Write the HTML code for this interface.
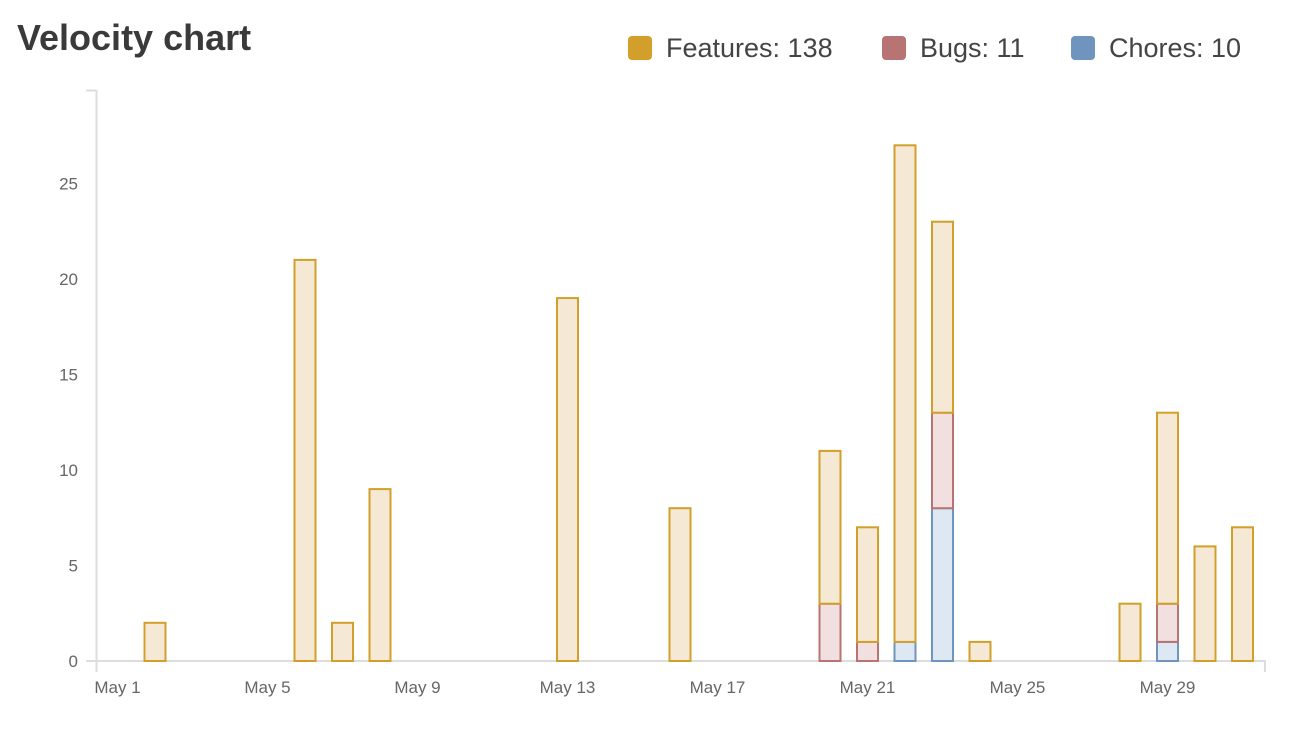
<!DOCTYPE html>
<html><head><meta charset="utf-8"><style>
body{margin:0;background:#fff;width:1294px;height:730px;overflow:hidden;font-family:"Liberation Sans",sans-serif}
</style></head><body>
<svg width="1294" height="730">
<text x="17" y="50" font-size="36" font-weight="bold" fill="#3a3a3a">Velocity chart</text>
<g id="legend"></g>
<g id="axes"></g>
<g id="bars"></g>
</svg>
<script>
const days=[2,6,7,8,13,16,20,21,22,23,24,28,29,30,31];
const features=[2,21,2,9,19,8,8,6,26,10,1,3,10,6,7];
const bugs=[0,0,0,0,0,0,3,1,0,5,0,0,2,0,0];
const chores=[0,0,0,0,0,0,0,0,1,8,0,0,1,0,0];
const yTicks=[0,5,10,15,20,25];
const xTickDays=[1,5,9,13,17,21,25,29];
const legendLabels=["Features: 138","Bugs: 11","Chores: 10"];
const NS="http://www.w3.org/2000/svg";
function mk(t,a,p){const e=document.createElementNS(NS,t);for(const k in a)e.setAttribute(k,a[k]);p.appendChild(e);return e;}
const x=d=>117.5+(d-1)*37.5;
const y=v=>661-v*19.1;
const axes=document.getElementById('axes'),bars=document.getElementById('bars'),legend=document.getElementById('legend');
let l=mk('line',{x1:96.5,y1:90,x2:96.5,y2:672,stroke:'#ddd','stroke-width':2},axes);


l=mk('line',{x1:86,y1:90.5,x2:96,y2:90.5,stroke:'#ddd','stroke-width':2},axes);


l=mk('line',{x1:86,y1:661,x2:1266,y2:661,stroke:'#ddd','stroke-width':2},axes);


l=mk('line',{x1:1265,y1:661,x2:1265,y2:672,stroke:'#ddd','stroke-width':2},axes);


yTicks.forEach(v=>{const t=mk('text',{x:78,y:y(v)+6,'text-anchor':'end','font-size':17,fill:'#666'},axes);t.textContent=v;

});
xTickDays.forEach(d=>{const t=mk('text',{x:x(d),y:693,'text-anchor':'middle','font-size':17,fill:'#666'},axes);t.textContent='May '+d;

});
const styles=[['#dde8f2','#6f95be','chores'],['#f2e0e0','#b87373','bugs'],['#f5e9d5','#d19f2a','features']];
days.forEach((d,i)=>{let base=0;[chores[i],bugs[i],features[i]].forEach((v,j)=>{if(!v)return;
const r=mk('rect',{x:x(d)-10.5,y:y(base+v),width:21,height:v*19.1,fill:styles[j][0],stroke:styles[j][1],'stroke-width':2},bars);


base+=v;});});
const lx=[628,882,1071],lc=['#d19f2a','#b87373','#6f95be'];
legendLabels.forEach((s,i)=>{const g=mk('g',{},legend);


mk('rect',{x:lx[i],y:36,width:24,height:24,rx:4,fill:lc[i]},g);
const t=mk('text',{x:lx[i]+38,y:57,'font-size':27,fill:'#444'},g);t.textContent=s;});
</script>
</body></html>
